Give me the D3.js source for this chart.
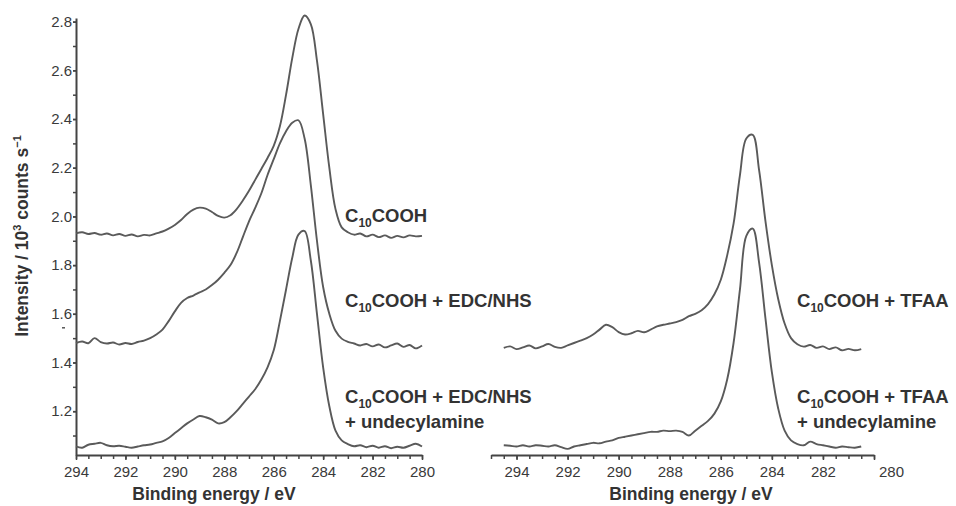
<!DOCTYPE html>
<html>
<head>
<meta charset="utf-8">
<script src="https://cdn.jsdelivr.net/npm/d3@7"></script>
<style>
  body { margin: 0; background: #fff; }
  svg text { font-family: "Liberation Sans", Arial, sans-serif; fill: #333; }
  .axis path, .axis line { stroke: #444; }
  .axis text { font-size: 15px; fill: #3a3a3a; }
  .curve { fill: none; stroke: #5a5a5a; stroke-width: 1.9px; stroke-linejoin: round; }
  .lbl { font-size: 18.5px; font-weight: bold; }
  .title { font-size: 17.5px; font-weight: bold; }
</style>
</head>
<body>
<svg id="chart" width="956" height="506"></svg>
<script>
// binding energy grids (eV)
const leftEnergy = [294, 293.75, 293.5, 293.25, 293, 292.75, 292.5, 292.25, 292, 291.75, 291.5, 291.25, 291, 290.75, 290.5, 290.25, 290, 289.75, 289.5, 289.25, 289, 288.75, 288.5, 288.25, 288, 287.75, 287.5, 287.25, 287, 286.75, 286.5, 286.25, 286, 285.75, 285.5, 285.25, 285, 284.75, 284.5, 284.25, 284, 283.75, 283.5, 283.25, 283, 282.75, 282.5, 282.25, 282, 281.75, 281.5, 281.25, 281, 280.75, 280.5, 280.25, 280];
const rightEnergy = [294.5, 294.25, 294, 293.75, 293.5, 293.25, 293, 292.75, 292.5, 292.25, 292, 291.75, 291.5, 291.25, 291, 290.75, 290.5, 290.25, 290, 289.75, 289.5, 289.25, 289, 288.75, 288.5, 288.25, 288, 287.75, 287.5, 287.25, 287, 286.75, 286.5, 286.25, 286, 285.75, 285.5, 285.25, 285, 284.75, 284.5, 284.25, 284, 283.75, 283.5, 283.25, 283, 282.75, 282.5, 282.25, 282, 281.75, 281.5, 281.25, 281, 280.75, 280.5];

// intensities (10^3 counts/s)
const cooh = [1.930, 1.935, 1.928, 1.932, 1.925, 1.930, 1.922, 1.928, 1.920, 1.926, 1.918, 1.924, 1.922, 1.930, 1.938, 1.950, 1.965, 1.985, 2.010, 2.028, 2.036, 2.032, 2.018, 2.002, 1.995, 2.005, 2.030, 2.065, 2.105, 2.150, 2.195, 2.240, 2.290, 2.370, 2.500, 2.650, 2.770, 2.825, 2.790, 2.640, 2.420, 2.200, 2.030, 1.955, 1.935, 1.925, 1.930, 1.918, 1.925, 1.915, 1.922, 1.912, 1.920, 1.914, 1.922, 1.918, 1.920];
const coohEdc = [1.480, 1.486, 1.479, 1.500, 1.484, 1.478, 1.482, 1.474, 1.480, 1.476, 1.484, 1.490, 1.500, 1.515, 1.535, 1.570, 1.610, 1.645, 1.665, 1.675, 1.688, 1.700, 1.718, 1.740, 1.768, 1.800, 1.850, 1.915, 1.980, 2.035, 2.095, 2.170, 2.235, 2.300, 2.350, 2.385, 2.395, 2.320, 2.130, 1.900, 1.710, 1.600, 1.530, 1.498, 1.485, 1.478, 1.470, 1.476, 1.466, 1.474, 1.462, 1.470, 1.478, 1.464, 1.472, 1.458, 1.470];
const coohEdcAmine = [1.055, 1.050, 1.062, 1.066, 1.070, 1.060, 1.056, 1.058, 1.054, 1.050, 1.055, 1.060, 1.063, 1.070, 1.076, 1.090, 1.110, 1.130, 1.150, 1.166, 1.180, 1.175, 1.165, 1.150, 1.155, 1.175, 1.200, 1.230, 1.260, 1.290, 1.330, 1.380, 1.450, 1.570, 1.700, 1.830, 1.925, 1.940, 1.820, 1.600, 1.380, 1.220, 1.120, 1.080, 1.065, 1.056, 1.060, 1.052, 1.058, 1.050, 1.056, 1.048, 1.054, 1.050, 1.058, 1.066, 1.055];
const coohTfaa = [1.460, 1.466, 1.455, 1.462, 1.470, 1.458, 1.466, 1.476, 1.464, 1.460, 1.470, 1.480, 1.490, 1.500, 1.515, 1.535, 1.555, 1.545, 1.525, 1.515, 1.520, 1.530, 1.524, 1.535, 1.548, 1.555, 1.560, 1.566, 1.575, 1.590, 1.600, 1.615, 1.640, 1.680, 1.740, 1.840, 1.970, 2.170, 2.320, 2.335, 2.190, 1.980, 1.800, 1.660, 1.560, 1.500, 1.475, 1.465, 1.472, 1.460, 1.466, 1.455, 1.462, 1.450, 1.456, 1.450, 1.455];
const coohTfaaAmine = [1.060, 1.058, 1.055, 1.060, 1.055, 1.060, 1.058, 1.055, 1.060, 1.052, 1.045, 1.055, 1.060, 1.065, 1.070, 1.068, 1.075, 1.080, 1.090, 1.095, 1.100, 1.105, 1.110, 1.115, 1.115, 1.120, 1.118, 1.120, 1.115, 1.100, 1.120, 1.140, 1.160, 1.190, 1.240, 1.330, 1.480, 1.700, 1.920, 1.950, 1.810, 1.580, 1.360, 1.210, 1.120, 1.080, 1.065, 1.060, 1.075, 1.065, 1.060, 1.055, 1.050, 1.055, 1.052, 1.050, 1.055];

const yTicks = [1.2, 1.4, 1.6, 1.8, 2.0, 2.2, 2.4, 2.6, 2.8];
const xTicks = [294, 292, 290, 288, 286, 284, 282, 280];

const svg = d3.select("#chart");

const y = d3.scaleLinear().domain([1.02, 2.815]).range([455, 18]);
const xL = d3.scaleLinear().domain([294, 280]).range([76, 422]);
const xR = d3.scaleLinear().domain([295, 280]).range([491, 874]);

// minor ticks every 0.5 eV
const minorX = (sc) => d3.range(sc.domain()[0] * 2, sc.domain()[1] * 2 - 0.5, -1).map(v => v / 2);

function xAxis(sc) {
  let g = svg.append("g").attr("class", "axis").attr("transform", "translate(0,455)");
  g.call(d3.axisBottom(sc).tickValues(minorX(sc)).tickSize(4).tickFormat(""))
    .call(a => a.select(".domain").remove());
  g.selectAll("line").attr("stroke-width", 1.5);
  let m = svg.append("g").attr("class", "axis").attr("transform", "translate(0,455)");
  m.call(d3.axisBottom(sc).tickValues(xTicks).tickSize(5).tickSizeOuter(0).tickPadding(4).tickFormat(d3.format("d")));
  m.select(".domain").attr("stroke-width", 2);
  m.selectAll("line").attr("stroke-width", 1.5);
  m.selectAll("text").attr("dy", "0.85em");
  return m;
}

xAxis(xL);
let r = xAxis(xR);
// the 280 label on the right panel sits past the end of the axis
r.selectAll(".tick").filter(d => d === 280).select("text").attr("dx", 17);

// y axis
let ym = svg.append("g").attr("class", "axis").attr("transform", "translate(76,0)");
ym.call(d3.axisLeft(y).tickValues(d3.range(11, 29).map(v => v / 10)).tickSize(3).tickFormat(""))
  .call(a => a.select(".domain").remove());
ym.selectAll("line").attr("stroke-width", 1.5);
let ya = svg.append("g").attr("class", "axis").attr("transform", "translate(76,0)");
ya.call(d3.axisLeft(y).tickValues(yTicks).tickSize(3).tickSizeOuter(0).tickPadding(1).tickFormat(d3.format(".1f")));
ya.select(".domain").attr("stroke-width", 2);
ya.selectAll("line").attr("stroke-width", 1.5);
// stray dash under the 1.6 label in the original
svg.append("line").attr("x1", 62).attr("x2", 65).attr("y1", y(1.6) + 14).attr("y2", y(1.6) + 14)
  .attr("stroke", "#555").attr("stroke-width", 1.5);

// curves
const line = d3.line().curve(d3.curveCatmullRom.alpha(0.5));
function curve(sc, xs, ys) {
  svg.append("path").attr("class", "curve")
    .datum(xs.map((e, i) => [e, ys[i]]))
    .attr("d", line.x(d => sc(d[0])).y(d => y(d[1])));
}
curve(xL, leftEnergy, cooh);
curve(xL, leftEnergy, coohEdc);
curve(xL, leftEnergy, coohEdcAmine);
curve(xR, rightEnergy, coohTfaa);
curve(xR, rightEnergy, coohTfaaAmine);

// sample labels
function label(x, yy, rest) {
  let t = svg.append("text").attr("class", "lbl").attr("x", x).attr("y", yy);
  t.append("tspan").text("C");
  t.append("tspan").attr("dy", 5).style("font-size", "12px").text("10");
  t.append("tspan").attr("dy", -5).text("COOH" + rest);
}
label(345, 222, "");
label(345, 307, " + EDC/NHS");
label(345, 403, " + EDC/NHS");
svg.append("text").attr("class", "lbl").attr("x", 345).attr("y", 428).text("+ undecylamine");
label(797, 307, " + TFAA");
label(797, 403, " + TFAA");
svg.append("text").attr("class", "lbl").attr("x", 797).attr("y", 428).text("+ undecylamine");

// axis titles
svg.append("text").attr("class", "title").attr("x", 214).attr("y", 500)
  .attr("text-anchor", "middle").text("Binding energy / eV");
svg.append("text").attr("class", "title").attr("x", 691).attr("y", 500)
  .attr("text-anchor", "middle").text("Binding energy / eV");

let yt = svg.append("text").attr("class", "title")
  .attr("transform", "translate(28,236) rotate(-90)").attr("text-anchor", "middle");
yt.append("tspan").text("Intensity / 10");
yt.append("tspan").attr("dy", -7).style("font-size", "11px").text("3");
yt.append("tspan").attr("dy", 7).text(" counts s");
yt.append("tspan").attr("dy", -7).style("font-size", "11px").text("\u22121");
</script>
</body>
</html>
